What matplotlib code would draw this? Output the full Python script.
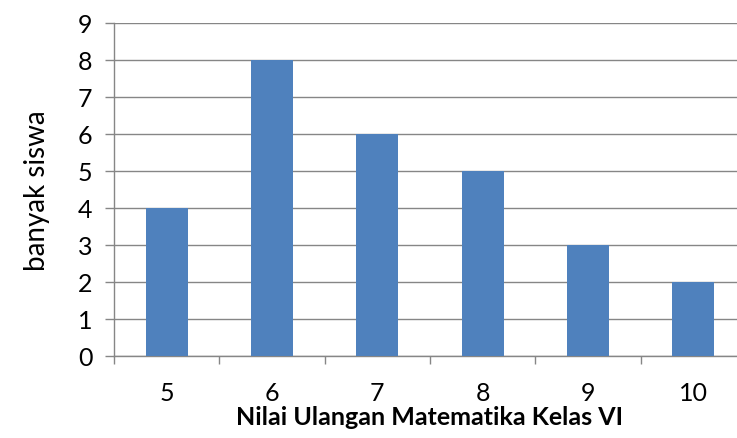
import matplotlib
matplotlib.use("Agg")
import matplotlib.pyplot as plt
import numpy as np

categories = ["5", "6", "7", "8", "9", "10"]
values = [4, 8, 6, 5, 3, 2]
yticks = list(range(0, 10))

plt.rcParams['font.family'] = ['Lato', 'DejaVu Sans']

fig = plt.figure(figsize=(7.37, 4.39), dpi=100)
ax = fig.add_axes([114/737, 1-357/439, 632/737, (357-23.7)/439])

x = np.arange(len(categories))
ax.bar(x, values, width=0.4, color="#4F81BD", zorder=3)

ax.set_xlim(-0.5, len(categories) - 0.5)
ax.set_ylim(0, 9)
ax.set_yticks(yticks)
ax.set_yticklabels([str(t) for t in yticks])
ax.yaxis.grid(True, color="#868686", linewidth=1.0, zorder=0)

gray = "#868686"
for s in ["top", "right"]:
    ax.spines[s].set_visible(False)
for s in ["left", "bottom"]:
    ax.spines[s].set_color(gray)
    ax.spines[s].set_linewidth(1.0)

ax.set_xticks(x)
ax.set_xticklabels(categories)
ax.set_xticks(np.arange(len(categories) + 1) - 0.5, minor=True)
ax.tick_params(axis="x", which="major", length=0, pad=18, labelsize=18, colors="black")
ax.tick_params(axis="x", which="minor", length=5.5, width=1.0, color=gray)
ax.tick_params(axis="y", length=6.5, width=1.0, color=gray, pad=9, labelsize=18, labelcolor="black")

ax.set_ylabel("banyak siswa", fontsize=20, labelpad=20)
ax.set_xlabel("Nilai Ulangan Matematika Kelas VI", fontsize=18, fontweight="bold", labelpad=1)

fig.savefig("out.png", dpi=100)
